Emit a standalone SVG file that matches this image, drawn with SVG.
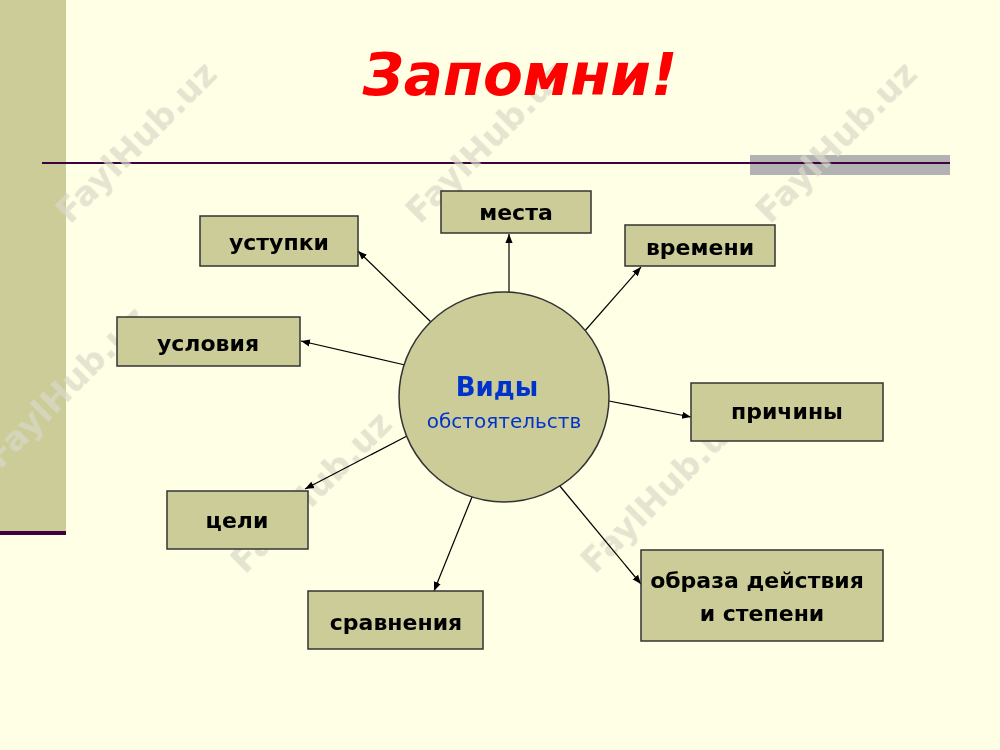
<svg xmlns="http://www.w3.org/2000/svg" width="1000" height="750" viewBox="0 0 1000 750">
<style>
.box{fill:#CCCC99;stroke:#333;stroke-width:1.5}
.t{font-family:"DejaVu Sans",sans-serif;font-weight:bold;font-size:22px;fill:#000;text-anchor:middle}
.c{stroke:#000;stroke-width:1.2;fill:none;marker-end:url(#a)}
.wm{font-family:"DejaVu Sans",sans-serif;font-weight:bold;font-size:34px;fill:#d8d8c8;opacity:0.7}
</style>
<defs><marker id="a" viewBox="0 0 10 10" refX="10" refY="5" markerWidth="9" markerHeight="9" orient="auto" markerUnits="userSpaceOnUse"><path d="M0,1 L10,5 L0,9 z" fill="#000"/></marker></defs>
<rect width="1000" height="750" fill="#FFFFE6"/>
<rect x="0" y="0" width="66" height="533" fill="#CCCC99"/>
<rect x="0" y="531" width="66" height="4" fill="#400040"/>
<rect x="750" y="155" width="200" height="20" fill="#B2B2B2"/>
<line x1="42" y1="163" x2="950" y2="163" stroke="#400040" stroke-width="2"/>
<g class="wm">
<text transform="translate(70,225) rotate(-45)">FaylHub.uz</text>
<text transform="translate(420,225) rotate(-45)">FaylHub.uz</text>
<text transform="translate(770,225) rotate(-45)">FaylHub.uz</text>
<text transform="translate(0,470) rotate(-45)">FaylHub.uz</text>
<text transform="translate(245,575) rotate(-45)">FaylHub.uz</text>
<text transform="translate(595,575) rotate(-45)">FaylHub.uz</text>
</g>
<text x="520" y="95" font-family="DejaVu Sans,sans-serif" font-weight="bold" font-style="italic" font-size="58" fill="#FF0000" text-anchor="middle">Запомни!</text>
<g id="connectors">
<line class="c" x1="509" y1="299" x2="509" y2="234"/>
<line class="c" x1="583" y1="333" x2="641" y2="267"/>
<line class="c" x1="433" y1="324" x2="358" y2="251"/>
<line class="c" x1="405" y1="365" x2="301" y2="341"/>
<line class="c" x1="609" y1="401" x2="691" y2="417"/>
<line class="c" x1="407" y1="436" x2="305" y2="489"/>
<line class="c" x1="474" y1="492" x2="434" y2="591"/>
<line class="c" x1="559" y1="485" x2="641" y2="584"/>
</g>
<g id="center"><circle cx="504" cy="397" r="105" fill="#CCCC99" stroke="#333" stroke-width="1.5"/>
<text x="497" y="396" font-family="DejaVu Sans,sans-serif" font-weight="bold" font-size="26" fill="#0033CC" text-anchor="middle">Виды</text>
<text x="504" y="428" font-family="DejaVu Sans,sans-serif" font-size="20" fill="#0033CC" text-anchor="middle">обстоятельств</text></g>
<g id="mesta"><rect class="box" x="441" y="191" width="150" height="42"/><text class="t" x="516" y="220">места</text></g>
<g id="vremeni"><rect class="box" x="625" y="225" width="150" height="41"/><text class="t" x="700" y="255">времени</text></g>
<g id="ustupki"><rect class="box" x="200" y="216" width="158" height="50"/><text class="t" x="279" y="250">уступки</text></g>
<g id="usloviya"><rect class="box" x="117" y="317" width="183" height="49"/><text class="t" x="208" y="351">условия</text></g>
<g id="prichiny"><rect class="box" x="691" y="383" width="192" height="58"/><text class="t" x="787" y="419">причины</text></g>
<g id="celi"><rect class="box" x="167" y="491" width="141" height="58"/><text class="t" x="237" y="528">цели</text></g>
<g id="sravneniya"><rect class="box" x="308" y="591" width="175" height="58"/><text class="t" x="396" y="630">сравнения</text></g>
<g id="obraza"><rect class="box" x="641" y="550" width="242" height="91"/><text class="t" x="757" y="588">образа действия</text><text class="t" x="762" y="621">и степени</text></g>
</svg>
